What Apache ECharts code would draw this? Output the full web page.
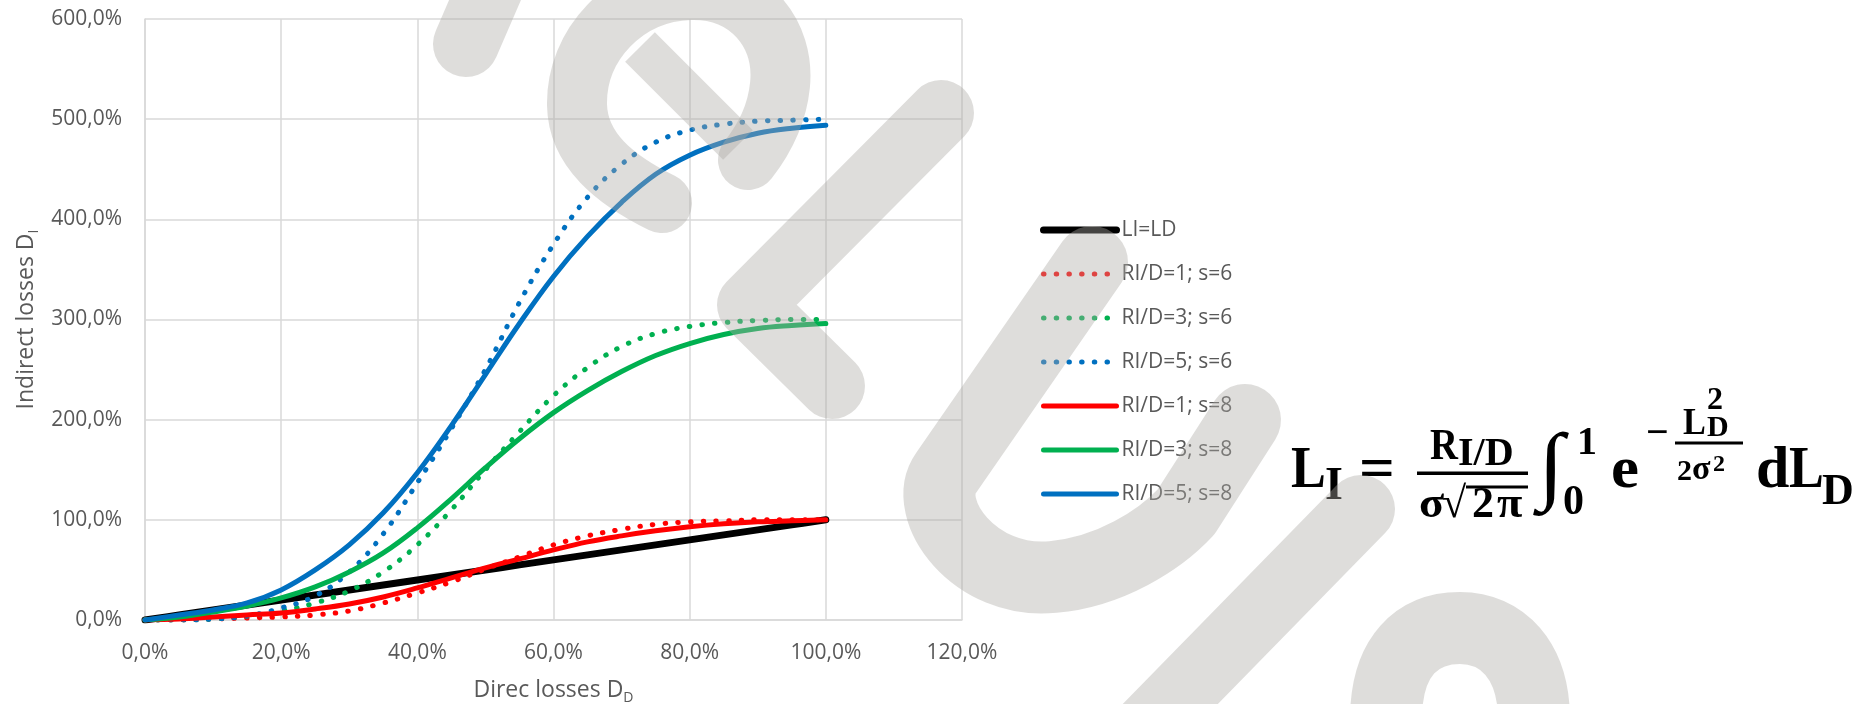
<!DOCTYPE html>
<html>
<head>
<meta charset="utf-8">
<title>Indirect losses vs direct losses</title>
<script src="https://cdn.jsdelivr.net/npm/echarts@6/dist/echarts.min.js"></script>
<style>
  html, body { margin: 0; padding: 0; background: #fff; }
  #main { width: 1867px; height: 704px; }
</style>
</head>
<body>
<div id="main"></div>
<script>
var myChart = echarts.init(document.getElementById('main'));

// direct losses D_D, read every 5 %
var direct = [0, 0.05, 0.1, 0.15, 0.2, 0.25, 0.3, 0.35, 0.4, 0.45, 0.5,
    0.55, 0.6, 0.65, 0.7, 0.75, 0.8, 0.85, 0.9, 0.95, 1];

// indirect losses D_I for each curve
var liEqualsLd = [0, 0.05, 0.1, 0.15, 0.2, 0.25, 0.3, 0.35, 0.4, 0.45, 0.5,
    0.55, 0.6, 0.65, 0.7, 0.75, 0.8, 0.85, 0.9, 0.95, 1];
var r1s6 = [0, 0, 0.01, 0.02, 0.03, 0.05, 0.09, 0.17, 0.27, 0.38, 0.51,
    0.63, 0.75, 0.84, 0.905, 0.955, 0.98, 0.99, 1.0, 1.0, 1.0];
var r3s6 = [0, 0, 0.01, 0.04, 0.09, 0.17, 0.29, 0.48, 0.75, 1.10, 1.50,
    1.88, 2.24, 2.52, 2.73, 2.86, 2.93, 2.97, 2.99, 3.0, 3.0];
var r5s6 = [0, 0, 0.01, 0.04, 0.12, 0.24, 0.48, 0.86, 1.37, 1.91, 2.50,
    3.17, 3.75, 4.22, 4.55, 4.77, 4.89, 4.95, 4.98, 4.99, 5.0];
var r1s8 = [0, 0.01, 0.03, 0.05, 0.07, 0.11, 0.16, 0.23, 0.32, 0.42, 0.52,
    0.61, 0.70, 0.78, 0.84, 0.89, 0.93, 0.96, 0.98, 0.99, 1.0];
var r3s8 = [0, 0.03, 0.08, 0.14, 0.22, 0.33, 0.48, 0.67, 0.92, 1.21, 1.52,
    1.81, 2.07, 2.29, 2.48, 2.64, 2.76, 2.85, 2.91, 2.94, 2.96];
var r5s8 = [0, 0.05, 0.10, 0.17, 0.30, 0.50, 0.75, 1.07, 1.47, 1.94, 2.45,
    2.96, 3.43, 3.83, 4.17, 4.45, 4.64, 4.77, 4.86, 4.91, 4.94];

var seriesNames = ['LI=LD', 'RI/D=1; s=6', 'RI/D=3; s=6', 'RI/D=5; s=6',
    'RI/D=1; s=8', 'RI/D=3; s=8', 'RI/D=5; s=8'];

var RED = '#FF0000', GREEN = '#00B050', BLUE = '#0070C0';
var TEXT = '#595959';
var GRID = '#d9d9d9';
var dots = [0.5, 12.2];

function pairs(ys) {
    return direct.map(function (x, i) { return [x, ys[i]]; });
}
function pct(v) {
    return (v * 100).toFixed(1).replace('.', ',') + '%';
}
function curve(name, ys, color, width, type) {
    return {
        name: name,
        type: 'line',
        data: pairs(ys),
        smooth: 0.4,
        showSymbol: false,
        symbol: 'circle',
        color: color,
        lineStyle: { color: color, width: width, type: type, cap: 'round', join: 'round' },
        emphasis: { disabled: true }
    };
}

// watermark strokes drawn over the chart
var watermark = [
    { d: 'M466,44 L498,-30', w: 66, cap: 'round' },
    { d: 'M662,203 C615,180 578,150 577,105 C576,45 625,-8 690,-10 C750,-12 785,35 780,85 C777,115 765,138 748,160', w: 60, cap: 'round' },
    { d: 'M640,47 L738,145', w: 42, cap: 'butt' },
    { d: 'M941,113 L750,305 L832,386', w: 66, cap: 'round' },
    { d: 'M1092,262 L946,473 C920,510 975,585 1053,577 C1110,572 1160,540 1186,512 L1245,420', w: 72, cap: 'round' },
    { d: 'M1361,509 L1140,735', w: 68, cap: 'round' },
    { d: 'M1386,720 C1386,655 1418,628 1460,628 C1502,628 1534,660 1534,720', w: 72, cap: 'butt' }
];

// formula pieces: text, x, baseline, font size, horizontal scale
var formulaParts = [
    ['L', 1291, 492, 60, 0.87], ['I', 1325, 503, 46, 1], ['=', 1359, 492, 60, 1.05],
    ['R', 1430, 462, 44, 0.88], ['I/D', 1458, 468, 40, 1],
    ['σ', 1419, 520, 44, 1.05], ['√', 1442, 520, 44, 1], ['2', 1472, 520, 44, 1], ['π', 1497, 520, 44, 1.05],
    ['∫', 1538, 500, 86, 1.1], ['1', 1577, 457, 40, 1], ['0', 1563, 517, 42, 1],
    ['e', 1611, 492, 60, 1.05], ['−', 1646, 448, 40, 1],
    ['L', 1683, 437, 38, 0.9], ['2', 1707, 412, 32, 1], ['D', 1707, 438, 30, 1],
    ['2', 1677, 482, 30, 1], ['σ', 1692, 482, 34, 1], ['2', 1713, 473, 24, 1],
    ['d', 1756, 492, 60, 1], ['L', 1789, 492, 60, 0.87], ['D', 1822, 507, 44, 1]
];
var formulaBars = [[1417, 471.5, 111, 3.5], [1466, 485.5, 62, 3], [1675, 441.5, 68, 3]];

var graphics = formulaParts.map(function (p) {
    return {
        type: 'text',
        x: p[1],
        y: p[2] - 0.3375 * p[3],
        scaleX: p[4],
        style: {
            text: p[0],
            font: 'bold ' + p[3] + 'px "Liberation Serif"',
            fill: '#000',
            textAlign: 'left',
            textVerticalAlign: 'middle'
        }
    };
}).concat(formulaBars.map(function (b) {
    return { type: 'rect', shape: { x: b[0], y: b[1], width: b[2], height: b[3] }, style: { fill: '#000' } };
}));

var axisFont = { color: TEXT, fontSize: 21, fontFamily: 'Open Sans' };
var nameRich = {
    m: { color: TEXT, fontSize: 23, fontFamily: 'Open Sans', lineHeight: 30 },
    s: { color: TEXT, fontSize: 14, fontFamily: 'Open Sans', lineHeight: 14, verticalAlign: 'bottom' }
};

option = {
    animation: false,
    backgroundColor: '#fff',
    grid: { left: 145, right: 905, top: 19, bottom: 84, outerBoundsMode: 'none', containLabel: false },
    legend: {
        orient: 'vertical',
        left: 1040,
        top: 218,
        padding: 0,
        itemWidth: 73,
        itemHeight: 14,
        itemGap: 20,
        selectedMode: false,
        data: seriesNames,
        textStyle: { color: TEXT, fontSize: 21, fontFamily: 'Open Sans', lineHeight: 24 },
        lineStyle: { width: 'inherit' },
        itemStyle: { opacity: 0 }
    },
    xAxis: {
        type: 'value',
        min: 0,
        max: 1.2,
        interval: 0.2,
        axisLine: { show: true, lineStyle: { color: GRID, width: 1.5 } },
        axisTick: { show: false },
        splitLine: { show: true, lineStyle: { color: GRID, width: 1.5 } },
        axisLabel: Object.assign({ formatter: pct, margin: 23 }, axisFont),
        name: '{m|Direc losses D}{s|D}',
        nameLocation: 'middle',
        nameGap: 55,
        nameTextStyle: { rich: nameRich }
    },
    yAxis: {
        type: 'value',
        min: 0,
        max: 6,
        interval: 1,
        axisLine: { show: true, lineStyle: { color: GRID, width: 1.5 } },
        axisTick: { show: false },
        splitLine: { show: true, lineStyle: { color: GRID, width: 1.5 } },
        axisLabel: Object.assign({ formatter: pct, margin: 23 }, axisFont),
        name: '{m|Indirect losses D}{s|I}',
        nameLocation: 'middle',
        nameGap: 104,
        nameTextStyle: { rich: nameRich }
    },
    graphic: { elements: graphics },
    series: [
        curve(seriesNames[0], liEqualsLd, '#000000', 7, 'solid'),
        curve(seriesNames[1], r1s6, RED, 5, dots),
        curve(seriesNames[2], r3s6, GREEN, 5, dots),
        curve(seriesNames[3], r5s6, BLUE, 5, dots),
        curve(seriesNames[4], r1s8, RED, 5, 'solid'),
        curve(seriesNames[5], r3s8, GREEN, 5, 'solid'),
        curve(seriesNames[6], r5s8, BLUE, 5, 'solid'),
        {
            name: 'watermark',
            type: 'custom',
            coordinateSystem: 'none',
            silent: true,
            z: 50,
            data: [0],
            renderItem: function () {
                return {
                    type: 'group',
                    children: watermark.map(function (w) {
                        return {
                            type: 'path',
                            shape: { pathData: w.d },
                            style: {
                                fill: 'none',
                                stroke: 'rgb(172,169,166)',
                                lineWidth: w.w,
                                lineCap: w.cap,
                                lineJoin: 'round',
                                opacity: 0.4
                            }
                        };
                    })
                };
            }
        }
    ]
};

myChart.setOption(option);
</script>
</body>
</html>
